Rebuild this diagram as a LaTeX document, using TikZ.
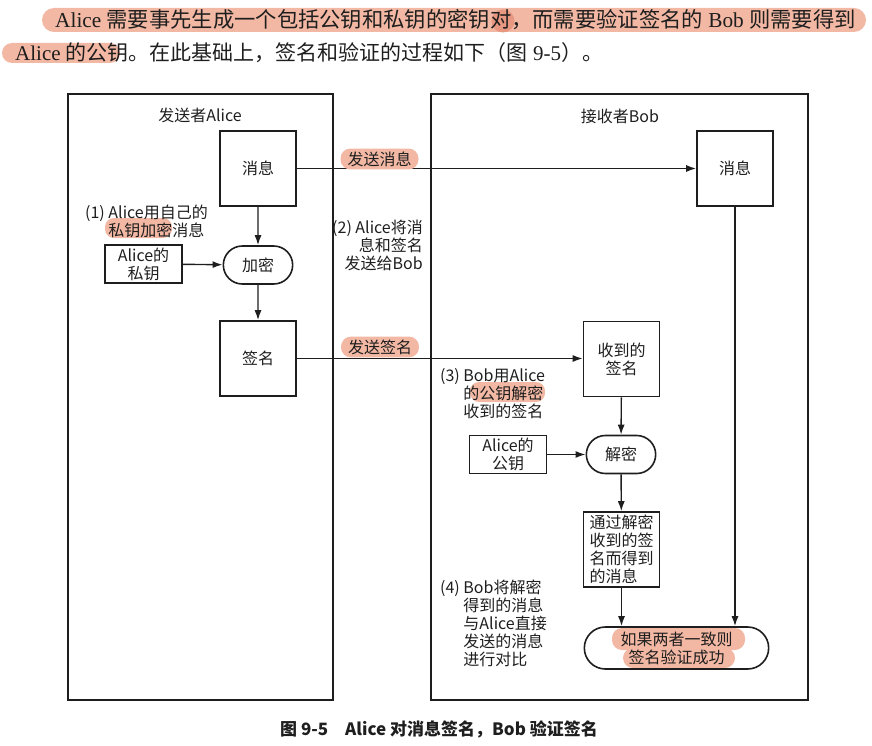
\documentclass[tikz,border=0pt]{standalone}
\usepackage{fontspec}
\setmainfont{Liberation Serif}
\newfontfamily\cjk{Noto Sans CJK SC}
\usetikzlibrary{arrows.meta}
\usetikzlibrary{shapes.misc}
\definecolor{hilite}{RGB}{242,184,164}
\definecolor{hilitedark}{RGB}{232,152,128}
\definecolor{ink}{RGB}{30,30,30}

\tikzset{
	txt/.style={font=\cjk\fontsize{16}{18}\selectfont, text=ink},
	msgbox/.style={txt, draw=ink, line width=1.6pt, minimum width=76pt, minimum height=75pt, align=center},
	keybox/.style={txt, draw=ink, line width=1.6pt, minimum width=77pt, minimum height=38pt, align=center, inner sep=1pt},
	pill/.style={txt, draw=ink, line width=1.6pt, rounded rectangle, minimum width=76pt, minimum height=38pt, align=center},
	flow/.style={draw=ink, line width=1.4pt, -{Latex[length=10pt,width=7pt]}},
	hl/.style={txt, fill=hilite, rounded corners=10pt, inner xsep=7pt, inner ysep=3pt},
	note/.style={txt, align=left, anchor=north west, inner sep=0pt},
	lane/.style={draw=ink, line width=1.4pt},
}

\begin{document}
\begin{tikzpicture}[x=1pt,y=-1pt]
		\useasboundingbox (0,0) rectangle (872,746);
		% highlighter marks
		\fill[hilite, rounded corners=12pt] (42,8) rectangle (866,32);
		\fill[hilitedark] (503,21) circle (11.5);
		\fill[hilite, rounded corners=10pt] (2,43) rectangle (120,63);
		\fill[hilite, rounded corners=9pt] (105,218) rectangle (172,238);
		\fill[hilite, rounded corners=9pt] (470,382) rectangle (545,402);
		\fill[hilite, rounded corners=10pt] (612,628) rectangle (745,650);
		\fill[hilite, rounded corners=10pt] (623,648) rectangle (735,668);
		% text above the figure
		\node[anchor=west, inner sep=0pt, font=\fontsize{21.3}{24}\selectfont, text=ink] (line1) at (55,20)
			{Alice {\cjk 需要事先生成一个包括公钥和私钥的密钥对，而需要验证签名的} Bob {\cjk 则需要得到}};
		\node[anchor=west, inner sep=0pt, font=\fontsize{21}{24}\selectfont, text=ink] (line2) at (15,53)
			{Alice {\cjk 的公钥。在此基础上，签名和验证的过程如下（图} 9-5{\cjk ）。}};

		% lanes
		\draw[lane] (68,94) rectangle (333,700);
		\draw[lane] (431,94) rectangle (808,700);
		\node[txt] (sender) at (200,115) {发送者Alice};
		\node[txt] (receiver) at (620,116) {接收者Bob};

		\node[msgbox] (amsg) at (258,168.5) {消息};
		\node[pill] (enc) at (258,265) {加密};
		\node[keybox] (akey) at (143.5,264) {Alice的\\私钥};
		\node[msgbox] (asig) at (258,358.5) {签名};

		\node[msgbox] (bmsg) at (735,168.5) {消息};
		\node[msgbox] (bsig) at (621.5,359) {收到的\\签名};
		\node[pill] (dec) at (621,454.5) {解密};
		\node[keybox] (bkey) at (508,454.5) {Alice的\\公钥};
		\node[msgbox, align=left, inner sep=2pt] (dmsg) at (621.5,549.5) {通过解密\\收到的签\\名而得到\\的消息};
		\node[pill, minimum width=191pt, minimum height=42pt, inner ysep=1pt] (ok) at (676.5,648) {如果两者一致则\\签名验证成功};

		\draw[flow] (amsg) -- (enc);
		\draw[flow] (akey) -- (enc);
		\draw[flow] (enc) -- (asig);
		\draw[flow] (amsg.east) -- (amsg.east -| bmsg.west);
		\draw[flow] (asig.east) -- (asig.east -| bsig.west);
		\draw[flow] (bsig) -- (dec);
		\draw[flow] (bkey) -- (dec);
		\draw[flow] (dec) -- (dmsg);
		\draw[flow] (dmsg.south) -- (dmsg.south |- ok.north);
		\draw[flow] (bmsg.south) -- (bmsg.south |- ok.north);

		\node[hl] (sendmsg) at (379.5,159) {发送消息};
		\node[hl] (sendsig) at (380,347) {发送签名};

		\node[note] (step1) at (85,205) {(1) Alice用自己的\\\phantom{(1) }私钥加密消息};
		\node[note, align=right, anchor=north east] (step2) at (423,220) {(2) Alice将消\\息和签名\\发送给Bob};
		\node[note] (step3) at (440,368) {(3) Bob用Alice\\\phantom{(3) }的公钥解密\\\phantom{(3) }收到的签名};
		\node[note] (step4) at (440,580) {(4) Bob将解密\\\phantom{(4) }得到的消息\\\phantom{(4) }与Alice直接\\\phantom{(4) }发送的消息\\\phantom{(4) }进行对比};

		\node[font=\cjk\bfseries\fontsize{17}{20}\selectfont, text=ink] (caption) at (439,729) {图 9-5\quad Alice 对消息签名，Bob 验证签名};
	\end{tikzpicture}
\end{document}
